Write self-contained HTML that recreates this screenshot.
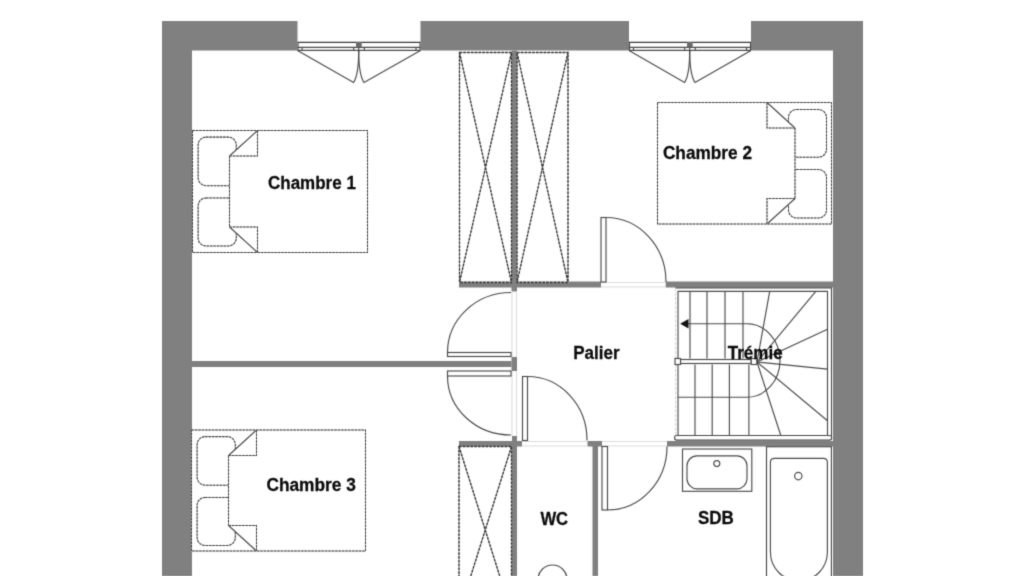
<!DOCTYPE html>
<html><head><meta charset="utf-8"><style>
html,body{margin:0;padding:0;background:#fff;}
svg{display:block;}
text{font-family:"Liberation Sans",sans-serif;font-weight:bold;font-size:17px;fill:#0a0a0a;stroke:#0a0a0a;stroke-width:0.25px;}
</style></head><body>
<svg width="1024" height="576" viewBox="0 0 1024 576">
<defs><filter id="bl" x="0" y="0" width="1" height="1" color-interpolation-filters="sRGB"><feConvolveMatrix order="3" kernelMatrix="1 5 1 5 25 5 1 5 1" divisor="49" edgeMode="duplicate"/></filter></defs>
<g filter="url(#bl)"><rect x="0" y="0" width="1024" height="576" fill="#fff"/>
<rect x="162" y="21" width="135.5" height="29.5" fill="#808080"/>
<rect x="420.5" y="21" width="208.5" height="29.5" fill="#808080"/>
<rect x="751" y="21" width="112" height="29.5" fill="#808080"/>
<rect x="162" y="21" width="30" height="555" fill="#808080"/>
<rect x="833" y="21" width="30" height="555" fill="#808080"/>
<rect x="511.5" y="50.5" width="5.5" height="241.0" fill="#808080"/>
<rect x="459" y="281.5" width="142" height="6.0" fill="#808080"/>
<rect x="665.7" y="281.5" width="167.3" height="6.0" fill="#808080"/>
<rect x="192" y="361" width="319.5" height="6" fill="#808080"/>
<rect x="511.5" y="357" width="5.5" height="14" fill="#808080"/>
<rect x="459" y="441" width="63" height="5.5" fill="#808080"/>
<rect x="512" y="436" width="5" height="140" fill="#808080"/>
<rect x="587.5" y="441" width="14.5" height="5.5" fill="#808080"/>
<rect x="592.5" y="441" width="5.5" height="135" fill="#808080"/>
<rect x="667" y="441" width="166" height="5.5" fill="#808080"/>
<line x1="601" y1="282.5" x2="666" y2="282.5" stroke="#dcdcdc" stroke-width="1.15" />
<line x1="601" y1="287" x2="666" y2="287" stroke="#dcdcdc" stroke-width="1.15" />
<line x1="512" y1="291.5" x2="512" y2="357" stroke="#dcdcdc" stroke-width="1.15" />
<line x1="512" y1="371" x2="512" y2="436" stroke="#dcdcdc" stroke-width="1.15" />
<line x1="516.5" y1="291.5" x2="516.5" y2="357" stroke="#dcdcdc" stroke-width="1.15" />
<line x1="516.5" y1="371" x2="516.5" y2="436" stroke="#dcdcdc" stroke-width="1.15" />
<line x1="522" y1="441.5" x2="587.5" y2="441.5" stroke="#dcdcdc" stroke-width="1.15" />
<line x1="602" y1="441.5" x2="667" y2="441.5" stroke="#dcdcdc" stroke-width="1.15" />
<line x1="522" y1="446" x2="587.5" y2="446" stroke="#dcdcdc" stroke-width="1.15" />
<line x1="602" y1="446" x2="667" y2="446" stroke="#dcdcdc" stroke-width="1.15" />
<rect x="447.5" y="352.5" width="63.5" height="4.0" fill="#fff" stroke="#4a4a4a" stroke-width="1.15"/>
<path d="M447.5 352.5 A63.5 60 0 0 1 511 292.5" fill="none" stroke="#4a4a4a" stroke-width="1.15"/>
<rect x="447.5" y="371" width="63.5" height="5" fill="#fff" stroke="#4a4a4a" stroke-width="1.15"/>
<path d="M447.5 376 A63.5 59 0 0 0 511 435" fill="none" stroke="#4a4a4a" stroke-width="1.15"/>
<rect x="601" y="217.5" width="5" height="64.5" fill="#fff" stroke="#4a4a4a" stroke-width="1.15"/>
<path d="M606 217.5 A60 64.5 0 0 1 666 282" fill="none" stroke="#4a4a4a" stroke-width="1.15"/>
<rect x="522.5" y="376.5" width="5.0" height="64.0" fill="#fff" stroke="#4a4a4a" stroke-width="1.15"/>
<path d="M527.5 376.5 A59.5 63.5 0 0 1 587 440.5" fill="none" stroke="#4a4a4a" stroke-width="1.15"/>
<rect x="602" y="446.5" width="5.5" height="63.5" fill="#fff" stroke="#4a4a4a" stroke-width="1.15"/>
<path d="M607.5 510 A59.5 63.5 0 0 0 667 446.5" fill="none" stroke="#4a4a4a" stroke-width="1.15"/>
<path d="M459.5 52.5 L511.5 52.5 L511.5 282.5 L459.5 282.5 Z M459.5 52.5 L511.5 282.5 M511.5 52.5 L459.5 282.5" fill="none" stroke="#a8a8a8" stroke-width="1.1"/>
<path d="M459.5 52.5 L511.5 52.5 L511.5 282.5 L459.5 282.5 Z M459.5 52.5 L511.5 282.5 M511.5 52.5 L459.5 282.5" fill="none" stroke="#333" stroke-width="1.3" stroke-dasharray="2.6 1.2"/>
<path d="M517 52.5 L568 52.5 L568 282.5 L517 282.5 Z M517 52.5 L568 282.5 M568 52.5 L517 282.5" fill="none" stroke="#a8a8a8" stroke-width="1.1"/>
<path d="M517 52.5 L568 52.5 L568 282.5 L517 282.5 Z M517 52.5 L568 282.5 M568 52.5 L517 282.5" fill="none" stroke="#333" stroke-width="1.3" stroke-dasharray="2.6 1.2"/>
<path d="M459 446.5 L511.5 446.5 L511.5 613.5 L459 613.5 Z M459 446.5 L511.5 613.5 M511.5 446.5 L459 613.5" fill="none" stroke="#a8a8a8" stroke-width="1.1"/>
<path d="M459 446.5 L511.5 446.5 L511.5 613.5 L459 613.5 Z M459 446.5 L511.5 613.5 M511.5 446.5 L459 613.5" fill="none" stroke="#333" stroke-width="1.3" stroke-dasharray="2.6 1.2"/>
<rect x="198.1" y="137.1" width="38.2" height="48.6" rx="8" fill="none" stroke="#b4b4b4" stroke-width="1"/>
<rect x="198.1" y="137.1" width="38.2" height="48.6" rx="8" fill="none" stroke="#404040" stroke-width="1.05" stroke-dasharray="2.4 1"/>
<rect x="198.1" y="197.9" width="38.2" height="48.1" rx="8" fill="none" stroke="#b4b4b4" stroke-width="1"/>
<rect x="198.1" y="197.9" width="38.2" height="48.1" rx="8" fill="none" stroke="#404040" stroke-width="1.05" stroke-dasharray="2.4 1"/>
<path d="M229.5 156.0 L257.5 130.5 L367.5 130.5 L367.5 252.5 L257.5 252.5 L229.5 227.0 Z" fill="#fff"/>
<path d="M229.5 156.0 L229.5 227.0" fill="none" stroke="#b4b4b4" stroke-width="1"/>
<path d="M229.5 156.0 L229.5 227.0" fill="none" stroke="#404040" stroke-width="1.05" stroke-dasharray="2.4 1"/>
<path d="M257.5 130.5 L229.5 156.0 M229.5 227.0 L257.5 252.5" fill="none" stroke="#4a4a4a" stroke-width="1.15"/>
<path d="M229.5 156.0 L257.5 156.0 L257.5 130.5 M229.5 227.0 L257.5 227.0 L257.5 252.5" fill="none" stroke="#b4b4b4" stroke-width="1"/>
<path d="M229.5 156.0 L257.5 156.0 L257.5 130.5 M229.5 227.0 L257.5 227.0 L257.5 252.5" fill="none" stroke="#404040" stroke-width="1.05" stroke-dasharray="2.4 1"/>
<rect x="192.5" y="130.5" width="175.0" height="122.0" fill="none" stroke="#b4b4b4" stroke-width="1"/>
<rect x="192.5" y="130.5" width="175.0" height="122.0" fill="none" stroke="#404040" stroke-width="1.05" stroke-dasharray="2.4 1"/>
<rect x="788.5" y="109.5" width="38.0" height="47.7" rx="8" fill="none" stroke="#b4b4b4" stroke-width="1"/>
<rect x="788.5" y="109.5" width="38.0" height="47.7" rx="8" fill="none" stroke="#404040" stroke-width="1.05" stroke-dasharray="2.4 1"/>
<rect x="788.5" y="169.5" width="38.0" height="48.5" rx="8" fill="none" stroke="#b4b4b4" stroke-width="1"/>
<rect x="788.5" y="169.5" width="38.0" height="48.5" rx="8" fill="none" stroke="#404040" stroke-width="1.05" stroke-dasharray="2.4 1"/>
<path d="M795.0 128.0 L767.0 102.5 L657.5 102.5 L657.5 224 L767.0 224 L795.0 198.5 Z" fill="#fff"/>
<path d="M795.0 128.0 L795.0 198.5" fill="none" stroke="#b4b4b4" stroke-width="1"/>
<path d="M795.0 128.0 L795.0 198.5" fill="none" stroke="#404040" stroke-width="1.05" stroke-dasharray="2.4 1"/>
<path d="M767.0 102.5 L795.0 128.0 M795.0 198.5 L767.0 224" fill="none" stroke="#4a4a4a" stroke-width="1.15"/>
<path d="M795.0 128.0 L767.0 128.0 L767.0 102.5 M795.0 198.5 L767.0 198.5 L767.0 224" fill="none" stroke="#b4b4b4" stroke-width="1"/>
<path d="M795.0 128.0 L767.0 128.0 L767.0 102.5 M795.0 198.5 L767.0 198.5 L767.0 224" fill="none" stroke="#404040" stroke-width="1.05" stroke-dasharray="2.4 1"/>
<rect x="657.5" y="102.5" width="174.0" height="121.5" fill="none" stroke="#b4b4b4" stroke-width="1"/>
<rect x="657.5" y="102.5" width="174.0" height="121.5" fill="none" stroke="#404040" stroke-width="1.05" stroke-dasharray="2.4 1"/>
<rect x="197.1" y="436.6" width="38.2" height="48.6" rx="8" fill="none" stroke="#b4b4b4" stroke-width="1"/>
<rect x="197.1" y="436.6" width="38.2" height="48.6" rx="8" fill="none" stroke="#404040" stroke-width="1.05" stroke-dasharray="2.4 1"/>
<rect x="197.1" y="497.4" width="38.2" height="48.1" rx="8" fill="none" stroke="#b4b4b4" stroke-width="1"/>
<rect x="197.1" y="497.4" width="38.2" height="48.1" rx="8" fill="none" stroke="#404040" stroke-width="1.05" stroke-dasharray="2.4 1"/>
<path d="M228.5 455.5 L256.5 430 L365.5 430 L365.5 551 L256.5 551 L228.5 525.5 Z" fill="#fff"/>
<path d="M228.5 455.5 L228.5 525.5" fill="none" stroke="#b4b4b4" stroke-width="1"/>
<path d="M228.5 455.5 L228.5 525.5" fill="none" stroke="#404040" stroke-width="1.05" stroke-dasharray="2.4 1"/>
<path d="M256.5 430 L228.5 455.5 M228.5 525.5 L256.5 551" fill="none" stroke="#4a4a4a" stroke-width="1.15"/>
<path d="M228.5 455.5 L256.5 455.5 L256.5 430 M228.5 525.5 L256.5 525.5 L256.5 551" fill="none" stroke="#b4b4b4" stroke-width="1"/>
<path d="M228.5 455.5 L256.5 455.5 L256.5 430 M228.5 525.5 L256.5 525.5 L256.5 551" fill="none" stroke="#404040" stroke-width="1.05" stroke-dasharray="2.4 1"/>
<rect x="191.5" y="430" width="174.0" height="121" fill="none" stroke="#b4b4b4" stroke-width="1"/>
<rect x="191.5" y="430" width="174.0" height="121" fill="none" stroke="#404040" stroke-width="1.05" stroke-dasharray="2.4 1"/>
<path d="M675.5 287.8 L831.5 287.8 L831.5 440" fill="#fff" stroke="#4a4a4a" stroke-width="1.15"/>
<line x1="675.6" y1="288" x2="675.6" y2="435" stroke="#d0d0d0" stroke-width="1" stroke-dasharray="3 1.5"/>
<path d="M678 435.5 L678 291.3 L827.5 291.3 L827.5 435.5" fill="none" stroke="#4a4a4a" stroke-width="1.15"/>
<rect x="674.6" y="435.5" width="157" height="4.6" rx="2" fill="#fff" stroke="#4a4a4a" stroke-width="1.15"/>
<line x1="690" y1="291.3" x2="690" y2="358.5" stroke="#4a4a4a" stroke-width="1.15" />
<line x1="707" y1="291.3" x2="707" y2="358.5" stroke="#4a4a4a" stroke-width="1.15" />
<line x1="725" y1="291.3" x2="725" y2="358.5" stroke="#4a4a4a" stroke-width="1.15" />
<line x1="743" y1="291.3" x2="743" y2="358.5" stroke="#4a4a4a" stroke-width="1.15" />
<line x1="695" y1="364.4" x2="695" y2="435.5" stroke="#4a4a4a" stroke-width="1.15" />
<line x1="712.2" y1="364.4" x2="712.2" y2="435.5" stroke="#4a4a4a" stroke-width="1.15" />
<line x1="729.4" y1="364.4" x2="729.4" y2="435.5" stroke="#4a4a4a" stroke-width="1.15" />
<line x1="748.9" y1="364.4" x2="748.9" y2="435.5" stroke="#4a4a4a" stroke-width="1.15" />
<line x1="757" y1="362" x2="769.7" y2="291.3" stroke="#4a4a4a" stroke-width="1.15" />
<line x1="757" y1="362" x2="815.8" y2="291.3" stroke="#4a4a4a" stroke-width="1.15" />
<line x1="757" y1="362" x2="827.5" y2="329.2" stroke="#4a4a4a" stroke-width="1.15" />
<line x1="757" y1="362" x2="827.5" y2="369.1" stroke="#4a4a4a" stroke-width="1.15" />
<line x1="757" y1="362" x2="827.5" y2="420.8" stroke="#4a4a4a" stroke-width="1.15" />
<line x1="757" y1="362" x2="780.8" y2="435.5" stroke="#4a4a4a" stroke-width="1.15" />
<path d="M688 323.75 L747 323.75 A33 36.75 0 0 1 747 397.25 L678 397.25" fill="none" stroke="#4a4a4a" stroke-width="1.15"/>
<path d="M680.2 323.75 L688.5 319 L688.5 328.5 Z" fill="#111"/>
<rect x="680.5" y="359.5" width="70.75" height="4" fill="#fff" stroke="#4a4a4a" stroke-width="1.15"/>
<rect x="675" y="358.5" width="5.5" height="6" fill="#fff" stroke="#4a4a4a" stroke-width="1.15"/>
<rect x="751.25" y="358.5" width="5.5" height="6" fill="#fff" stroke="#4a4a4a" stroke-width="1.15"/>
<rect x="297.5" y="42.4" width="123.0" height="8.1" fill="#fff"/>
<line x1="297.5" y1="42.4" x2="420.5" y2="42.4" stroke="#3a3a3a" stroke-width="1.4" />
<line x1="298.0" y1="42.4" x2="298.0" y2="50.5" stroke="#4a4a4a" stroke-width="1.15" />
<line x1="420.0" y1="42.4" x2="420.0" y2="50.5" stroke="#4a4a4a" stroke-width="1.15" />
<line x1="297.5" y1="47.3" x2="420.5" y2="47.3" stroke="#4a4a4a" stroke-width="1.15" />
<line x1="297.5" y1="50.3" x2="420.5" y2="50.3" stroke="#4a4a4a" stroke-width="1.15" />
<line x1="302.0" y1="47.3" x2="302.0" y2="50.3" stroke="#4a4a4a" stroke-width="1.15" />
<line x1="416.0" y1="47.3" x2="416.0" y2="50.3" stroke="#4a4a4a" stroke-width="1.15" />
<line x1="353.7" y1="47.3" x2="353.7" y2="50.3" stroke="#4a4a4a" stroke-width="1.15" />
<line x1="364.3" y1="47.3" x2="364.3" y2="50.3" stroke="#4a4a4a" stroke-width="1.15" />
<rect x="356.0" y="42" width="5.7" height="5.3" fill="#6a6a6a"/>
<line x1="358.7" y1="47.3" x2="358.7" y2="52" stroke="#4a4a4a" stroke-width="1.15" />
<path d="M297.5 50.5 L353.6 82.5 C356.5 78 358.7 70 358.7 50.5" fill="none" stroke="#4a4a4a" stroke-width="1.15"/>
<path d="M420.5 50.5 L364.0 82.5 C361.0 78 358.7 70 358.7 50.5" fill="none" stroke="#4a4a4a" stroke-width="1.15"/>
<rect x="629" y="42.4" width="122" height="8.1" fill="#fff"/>
<line x1="629" y1="42.4" x2="751" y2="42.4" stroke="#3a3a3a" stroke-width="1.4" />
<line x1="629.5" y1="42.4" x2="629.5" y2="50.5" stroke="#4a4a4a" stroke-width="1.15" />
<line x1="750.5" y1="42.4" x2="750.5" y2="50.5" stroke="#4a4a4a" stroke-width="1.15" />
<line x1="629" y1="47.3" x2="751" y2="47.3" stroke="#4a4a4a" stroke-width="1.15" />
<line x1="629" y1="50.3" x2="751" y2="50.3" stroke="#4a4a4a" stroke-width="1.15" />
<line x1="633.5" y1="47.3" x2="633.5" y2="50.3" stroke="#4a4a4a" stroke-width="1.15" />
<line x1="746.5" y1="47.3" x2="746.5" y2="50.3" stroke="#4a4a4a" stroke-width="1.15" />
<line x1="684.7" y1="47.3" x2="684.7" y2="50.3" stroke="#4a4a4a" stroke-width="1.15" />
<line x1="695.3" y1="47.3" x2="695.3" y2="50.3" stroke="#4a4a4a" stroke-width="1.15" />
<rect x="687.0" y="42" width="5.7" height="5.3" fill="#6a6a6a"/>
<line x1="689.7" y1="47.3" x2="689.7" y2="52" stroke="#4a4a4a" stroke-width="1.15" />
<path d="M629 50.5 L684.6 82.5 C687.5 78 689.7 70 689.7 50.5" fill="none" stroke="#4a4a4a" stroke-width="1.15"/>
<path d="M751 50.5 L695.0 82.5 C692.0 78 689.7 70 689.7 50.5" fill="none" stroke="#4a4a4a" stroke-width="1.15"/>
<rect x="682.5" y="449" width="69.3" height="42.3" fill="none" stroke="#4a4a4a" stroke-width="1.15"/>
<rect x="687" y="455.8" width="60" height="33" rx="10" fill="none" stroke="#4a4a4a" stroke-width="1.15"/>
<circle cx="716.8" cy="463.6" r="3" fill="none" stroke="#4a4a4a" stroke-width="1.15"/>
<rect x="766.5" y="446.75" width="64.9" height="150" fill="none" stroke="#4a4a4a" stroke-width="1.15"/>
<path d="M770.4 552 L770.4 462.3 Q770.4 458.3 774.4 458.3 L823.4 458.3 Q827.4 458.3 827.4 462.3 L827.4 552 A28.5 29 0 0 1 770.4 552" fill="none" stroke="#4a4a4a" stroke-width="1.15"/>
<circle cx="798.3" cy="476.1" r="3.7" fill="none" stroke="#4a4a4a" stroke-width="1.15"/>
<circle cx="552.5" cy="579.5" r="14.5" fill="none" stroke="#4a4a4a" stroke-width="1.15"/>
<text transform="translate(268 188.8) scale(1.0 1.03)">Chambre 1</text>
<text transform="translate(662.9 158.6) scale(1.015 1.03)">Chambre 2</text>
<text transform="translate(266.4 491) scale(1.02 1.03)">Chambre 3</text>
<text transform="translate(573.2 359) scale(1.0 1.03)">Palier</text>
<text transform="translate(727.8 358.8) scale(1.0 1.03)">Trémie</text>
<text transform="translate(540.4 524.8) scale(0.98 1.03)">WC</text>
<text transform="translate(698 524.1) scale(1.0 1.03)">SDB</text>
</g></svg></body></html>
